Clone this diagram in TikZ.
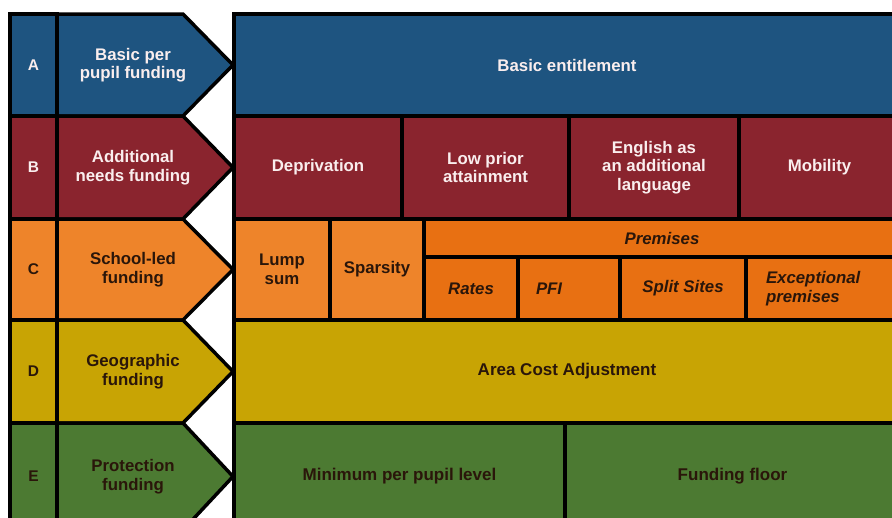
\documentclass[tikz,border=0pt]{standalone}
\usepackage{fontspec}
\setmainfont{Liberation Sans}
\definecolor{fblue}{RGB}{30,84,128}
\definecolor{fred}{RGB}{138,36,46}
\definecolor{forange}{RGB}{238,132,42}
\definecolor{fprem}{RGB}{232,112,18}
\definecolor{fgold}{RGB}{200,164,4}
\definecolor{fgreen}{RGB}{76,122,50}
\definecolor{fdark}{RGB}{42,22,10}
\definecolor{flight}{RGB}{250,238,238}
\begin{document}
\begin{tikzpicture}[x=1pt,y=-1pt,
    cell/.style={draw=black,line width=3.5pt,rectangle,inner sep=2pt,align=center,
      font=\fontsize{16.8}{18.5}\selectfont\bfseries},
    wide/.style={cell,font=\fontsize{17}{19}\selectfont\bfseries},
    prem/.style={cell,fill=fprem,text=fdark,
      font=\fontsize{16.8}{18.5}\selectfont\bfseries\itshape}]
  \useasboundingbox (0,0) rectangle (892,517);
  \foreach \n/\top/\bot/\mid/\fc/\tc/\txt in {
      A/14/116/65/fblue/flight/{Basic per\\pupil funding},
      B/116/219/167.5/fred/flight/{Additional\\needs funding},
      C/219/320/269.5/forange/fdark/{School-led\\funding},
      D/320/423/371.5/fgold/fdark/{Geographic\\funding},
      E/423/530/476.5/fgreen/fdark/{Protection\\funding}}{
    \draw[line width=3.5pt,fill=\fc] (10,\top) rectangle (57,\bot);
    \node[text=\tc,font=\fontsize{15.5}{18}\selectfont\bfseries] (l\n) at (33.5,\mid) {\n};
    \draw[line width=3.5pt,fill=\fc,line join=miter]
      (57,\top) -- (183,\top) -- (233,\mid) -- (183,\bot) -- (57,\bot) -- cycle;
    \node[text=\tc,align=center,font=\fontsize{16.8}{18.5}\selectfont\bfseries] (a\n) at (133,\mid) {\txt};
  }
  \node[cell,fill=fblue,text=flight,minimum width=666,minimum height=102] (base) at (567,65) {Basic entitlement};
  \node[cell,fill=fred,text=flight,minimum width=168,minimum height=103] (depr) at (318,167.5) {Deprivation};
  \node[cell,fill=fred,text=flight,minimum width=167,minimum height=103] (lowprior) at (485.5,167.5) {Low prior\\attainment};
  \node[cell,fill=fred,text=flight,minimum width=170,minimum height=103] (eal) at (654,167.5) {English as\\an additional\\language};
  \node[cell,fill=fred,text=flight,minimum width=161,minimum height=103] (mob) at (819.5,167.5) {Mobility};
  \node[cell,fill=forange,text=fdark,minimum width=96,minimum height=101] (lump) at (282,269.5) {Lump\\sum};
  \node[cell,fill=forange,text=fdark,minimum width=94,minimum height=101] (spars) at (377,269.5) {Sparsity};
  \node[prem,minimum width=476,minimum height=38] (premises) at (662,238) {Premises};
  \node[prem,minimum width=94,minimum height=63] (rates) at (471,288.5) {Rates};
  \node[prem,minimum width=102,minimum height=63,text width=66,align=left] (pfi) at (569,288.5) {PFI};
  \node[prem,minimum width=126,minimum height=63] (split) at (683,288.5) {Split Sites};
  \node[prem,minimum width=154,minimum height=63,text width=114,align=left] (except) at (823,288.5) {Exceptional\\premises};
  \node[wide,fill=fgold,text=fdark,minimum width=666,minimum height=103] (aca) at (567,371.5) {Area Cost Adjustment};
  \node[wide,fill=fgreen,text=fdark,minimum width=331,minimum height=107] (mppl) at (399.5,476.5) {Minimum per pupil level};
  \node[wide,fill=fgreen,text=fdark,minimum width=335,minimum height=107] (floor) at (732.5,476.5) {Funding floor};
\end{tikzpicture}
\end{document}
